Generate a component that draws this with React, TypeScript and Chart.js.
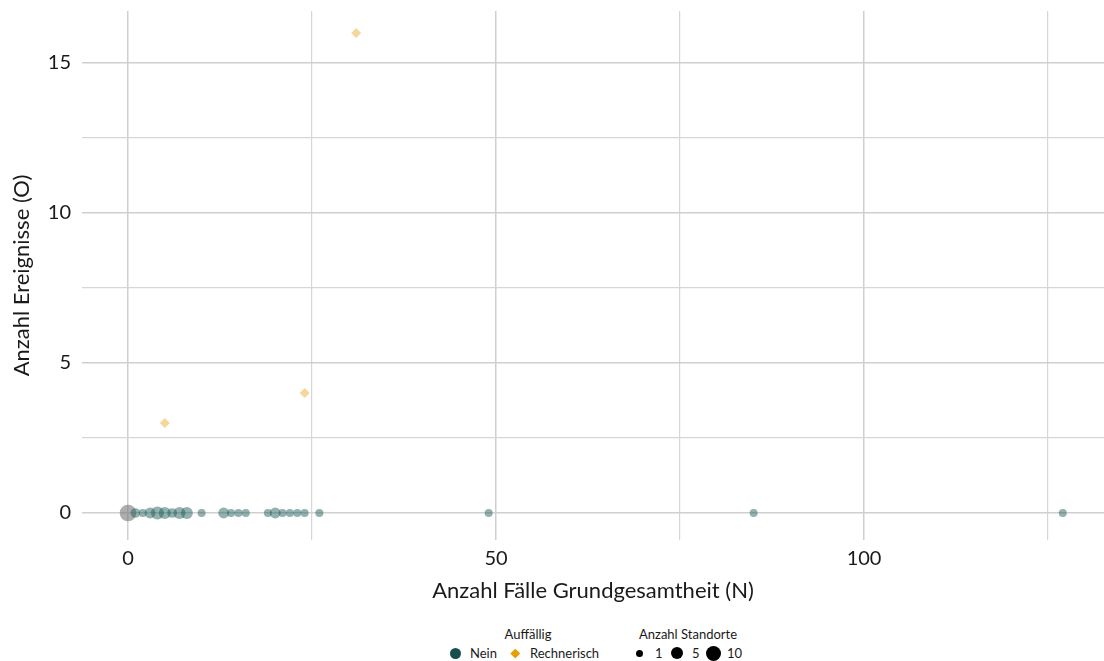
import React, { useEffect, useRef } from "react";
import { Chart, registerables } from "chart.js";

Chart.register(...registerables);

// ---- Data ----
const neinN = [1, 2, 3, 4, 5, 6, 7, 8, 10, 13, 14, 15, 16, 19, 20, 21, 22, 23, 24, 26, 49, 85, 127];
const neinO = [0, 0, 0, 0, 0, 0, 0, 0, 0, 0, 0, 0, 0, 0, 0, 0, 0, 0, 0, 0, 0, 0, 0];
const neinSites = [2, 1, 3, 5, 4, 2, 4, 4, 1, 3, 1, 1, 1, 1, 3, 1, 1, 1, 1, 1, 1, 1, 1];

const rechN = [5, 24, 31];
const rechO = [3, 4, 16];
const rechSites = [1, 1, 1];

const grayN = [0];
const grayO = [0];
const graySites = [10];

const xLabelTicks = [0, 50, 100];
const yLabelTicks = [0, 5, 10, 15];

const FONT = "Lato, 'Open Sans', sans-serif";

const radiusFor = (n: number) => 2 + 2 * Math.sqrt(n);

function pts(xs: number[], ys: number[], s: number[]) {
  return xs.map((x, i) => ({ x, y: ys[i], s: s[i] }));
}

export default function App() {
  const ref = useRef<HTMLCanvasElement | null>(null);

  useEffect(() => {
    document.body.style.margin = "0";
    if (!ref.current) return;
    const chart = new Chart(ref.current, {
      type: "scatter",
      data: {
        datasets: [
          {
            label: "Rechnerisch",
            data: pts(rechN, rechO, rechSites),
            pointStyle: "rectRot",
            backgroundColor: "rgba(232,160,20,0.42)",
            borderWidth: 0,
            pointRadius: (c: any) => radiusFor(c.raw?.s ?? 1) + 1,
            order: 0,
          },
          {
            label: "Nein",
            data: pts(neinN, neinO, neinSites),
            pointStyle: "circle",
            backgroundColor: "rgba(28,92,88,0.48)",
            borderWidth: 0,
            pointRadius: (c: any) => radiusFor(c.raw?.s ?? 1),
            order: 1,
          },
          {
            label: "Sonstige",
            data: pts(grayN, grayO, graySites),
            pointStyle: "circle",
            backgroundColor: "rgba(120,120,120,0.6)",
            borderWidth: 0,
            pointRadius: (c: any) => radiusFor(c.raw?.s ?? 1),
            order: 2,
          },
        ],
      },
      options: {
        animation: false,
        responsive: true,
        maintainAspectRatio: false,
        layout: { autoPadding: false, padding: { top: 11, right: 0, left: 0, bottom: 0 } },
        plugins: {
          legend: { display: false },
          tooltip: { enabled: false },
        },
        scales: {
          x: {
            type: "linear",
            min: -6.25,
            max: 132.6,
            border: { display: false },
            afterFit: (s: any) => {
              s.height = 65;
              s.paddingLeft = 0;
              s.paddingRight = 0;
            },
            grid: {
              drawTicks: true,
              tickLength: 7,
              tickColor: "rgba(0,0,0,0)",
              color: (c: any) => (c.tick && c.tick.value % 50 === 0 ? "#cfcfcf" : "#d6d6d6"),
              lineWidth: (c: any) => (c.tick && c.tick.value % 50 === 0 ? 1.5 : 1.2),
            },
            ticks: {
              stepSize: 25,
              includeBounds: false,
              padding: 0,
              color: "#1a1a1a",
              font: { family: FONT, size: 20 },
              maxRotation: 0,
              autoSkip: false,
              callback: (v: any) => (xLabelTicks.includes(Number(v)) ? String(v) : ""),
            },
            title: {
              display: true,
              text: "Anzahl Fälle Grundgesamtheit (N)",
              color: "#1a1a1a",
              font: { family: FONT, size: 22 },
              padding: { top: 0, bottom: 1 },
            },
          },
          y: {
            type: "linear",
            min: -0.9,
            max: 16.73,
            border: { display: false },
            afterFit: (s: any) => {
              s.width = 82;
              s.paddingTop = 0;
              s.paddingBottom = 0;
            },
            grid: {
              drawTicks: false,
              color: (c: any) => (c.tick && c.tick.value % 5 === 0 ? "#cfcfcf" : "#d6d6d6"),
              lineWidth: (c: any) => (c.tick && c.tick.value % 5 === 0 ? 1.5 : 1.2),
            },
            ticks: {
              stepSize: 2.5,
              includeBounds: false,
              padding: 11,
              color: "#1a1a1a",
              font: { family: FONT, size: 20 },
              autoSkip: false,
              callback: (v: any) => (yLabelTicks.includes(Number(v)) ? String(v) : ""),
            },
            title: {
              display: true,
              text: "Anzahl Ereignisse (O)",
              color: "#1a1a1a",
              font: { family: FONT, size: 22 },
              padding: { top: 9, bottom: 0 },
            },
          },
        },
      },
    } as any);
    return () => chart.destroy();
  }, []);

  const txt: React.CSSProperties = {
    position: "absolute",
    fontFamily: FONT,
    fontSize: 13,
    color: "#1a1a1a",
    lineHeight: "16px",
    whiteSpace: "nowrap",
  };
  const dotAt = (cx: number, cy: number, d: number, color: string): React.CSSProperties => ({
    position: "absolute",
    left: cx - d / 2,
    top: cy - d / 2,
    width: d,
    height: d,
    borderRadius: "50%",
    background: color,
  });
  const rowY = 653;

  return (
    <div style={{ position: "fixed", left: 0, top: 0, width: 1104, height: 661, background: "#fff" }}>
      <div style={{ position: "absolute", left: 0, top: 0, width: 1104, height: 605 }}>
        <canvas ref={ref} />
      </div>
      {/* Legend: Auffällig */}
      <span style={{ ...txt, left: 478, width: 100, textAlign: "center", top: 626 }}>Auffällig</span>
      <span style={dotAt(455, rowY, 11, "#174f4c")} />
      <span style={{ ...txt, left: 470, top: rowY - 8 }}>Nein</span>
      <span
        style={{
          position: "absolute",
          left: 515 - 3.3,
          top: rowY - 3.3,
          width: 6.6,
          height: 6.6,
          background: "#e69f00",
          transform: "rotate(45deg)",
        }}
      />
      <span style={{ ...txt, left: 530, top: rowY - 8 }}>Rechnerisch</span>
      {/* Legend: Anzahl Standorte */}
      <span style={{ ...txt, left: 638, width: 100, textAlign: "center", top: 626 }}>Anzahl Standorte</span>
      <span style={dotAt(639.5, rowY, 7, "#000")} />
      <span style={{ ...txt, left: 655, top: rowY - 8 }}>1</span>
      <span style={dotAt(677, rowY, 12, "#000")} />
      <span style={{ ...txt, left: 692, top: rowY - 8 }}>5</span>
      <span style={dotAt(713, rowY, 15, "#000")} />
      <span style={{ ...txt, left: 727, top: rowY - 8 }}>10</span>
    </div>
  );
}
